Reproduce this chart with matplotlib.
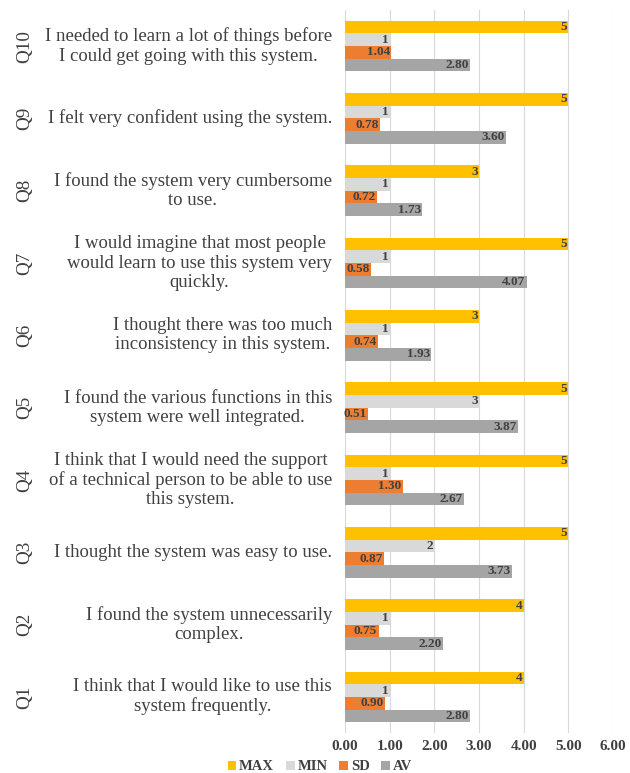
import matplotlib
matplotlib.use("Agg")
import matplotlib.pyplot as plt
import numpy as np

questions = ["Q1", "Q2", "Q3", "Q4", "Q5", "Q6", "Q7", "Q8", "Q9", "Q10"]
statements = [
    "I think that I would like to use this\nsystem frequently.",
    "I found the system unnecessarily\ncomplex.",
    "I thought the system was easy to use.",
    "I think that I would need the support\nof a technical person to be able to use\nthis system.",
    "I found the various functions in this\nsystem were well integrated.",
    "I thought there was too much\ninconsistency in this system.",
    "I would imagine that most people\nwould learn to use this system very\nquickly.",
    "I found the system very cumbersome\nto use.",
    "I felt very confident using the system.",
    "I needed to learn a lot of things before\nI could get going with this system.",
]
max_vals = [4, 4, 5, 5, 5, 3, 5, 3, 5, 5]
min_vals = [1, 1, 2, 1, 3, 1, 1, 1, 1, 1]
sd_vals = [0.90, 0.75, 0.87, 1.30, 0.51, 0.74, 0.58, 0.72, 0.78, 1.04]
av_vals = [2.80, 2.20, 3.73, 2.67, 3.87, 1.93, 4.07, 1.73, 3.60, 2.80]
x_ticks = [0, 1, 2, 3, 4, 5, 6]

series = [
    ("MAX", max_vals, "#FFC000", "{:.0f}"),
    ("MIN", min_vals, "#D9D9D9", "{:.0f}"),
    ("SD", sd_vals, "#ED7D31", "{:.2f}"),
    ("AV", av_vals, "#A5A5A5", "{:.2f}"),
]

serif = ["Liberation Serif", "DejaVu Serif"]
txt_color = "#404040"

fig = plt.figure(figsize=(6.3, 7.73), dpi=100)
ax = fig.add_axes([345 / 630, 1 - 733 / 773, 268 / 630, (733 - 10) / 773])

n = len(questions)
centers = np.arange(n) + 0.5
h = 0.175
offsets = [1.5 * h, 0.5 * h, -0.5 * h, -1.5 * h]

handles = []
for (name, vals, color, fmt), off in zip(series, offsets):
    bars = ax.barh(centers + off, vals, height=h, color=color, label=name, zorder=3)
    handles.append(bars)
    for y, v in zip(centers + off, vals):
        ax.text(v - 0.03, y, fmt.format(v), ha="right", va="center",
                fontsize=9.5, fontweight="bold", family=serif, color=txt_color, zorder=4)

ax.set_xlim(0, 6)
ax.set_ylim(0, n)
ax.set_xticks(x_ticks)
ax.set_xticklabels([f"{t:.2f}" for t in x_ticks], family=serif, fontweight="bold",
                   fontsize=11, color=txt_color)
ax.set_yticks([])
ax.tick_params(axis="x", length=0, pad=5)
ax.grid(axis="x", color="#D9D9D9", linewidth=0.8, zorder=0)
for s in ax.spines.values():
    s.set_visible(False)

for c, q, st in zip(centers, questions, statements):
    yfig = ax.transData.transform((0, c))
    yf = fig.transFigure.inverted().transform(yfig)[1]
    fig.text(332 / 630, yf, st, ha="right", va="center", multialignment="center",
             fontsize=13.5, family=serif, color=txt_color, linespacing=1.17)
    fig.text(25 / 630, yf, q, ha="center", va="center", rotation=90,
             fontsize=13.8, family=serif, color=txt_color)

fig.legend(handles=handles, labels=[s[0] for s in series], loc="center",
           bbox_to_anchor=(320 / 630, 1 - 767 / 773), ncol=4, frameon=False,
           prop={"family": serif, "weight": "bold", "size": 10.5},
           handlelength=0.6, handleheight=0.6, handletextpad=0.2, columnspacing=0.8,
           labelcolor=txt_color)

fig.savefig("out.png", dpi=100)
